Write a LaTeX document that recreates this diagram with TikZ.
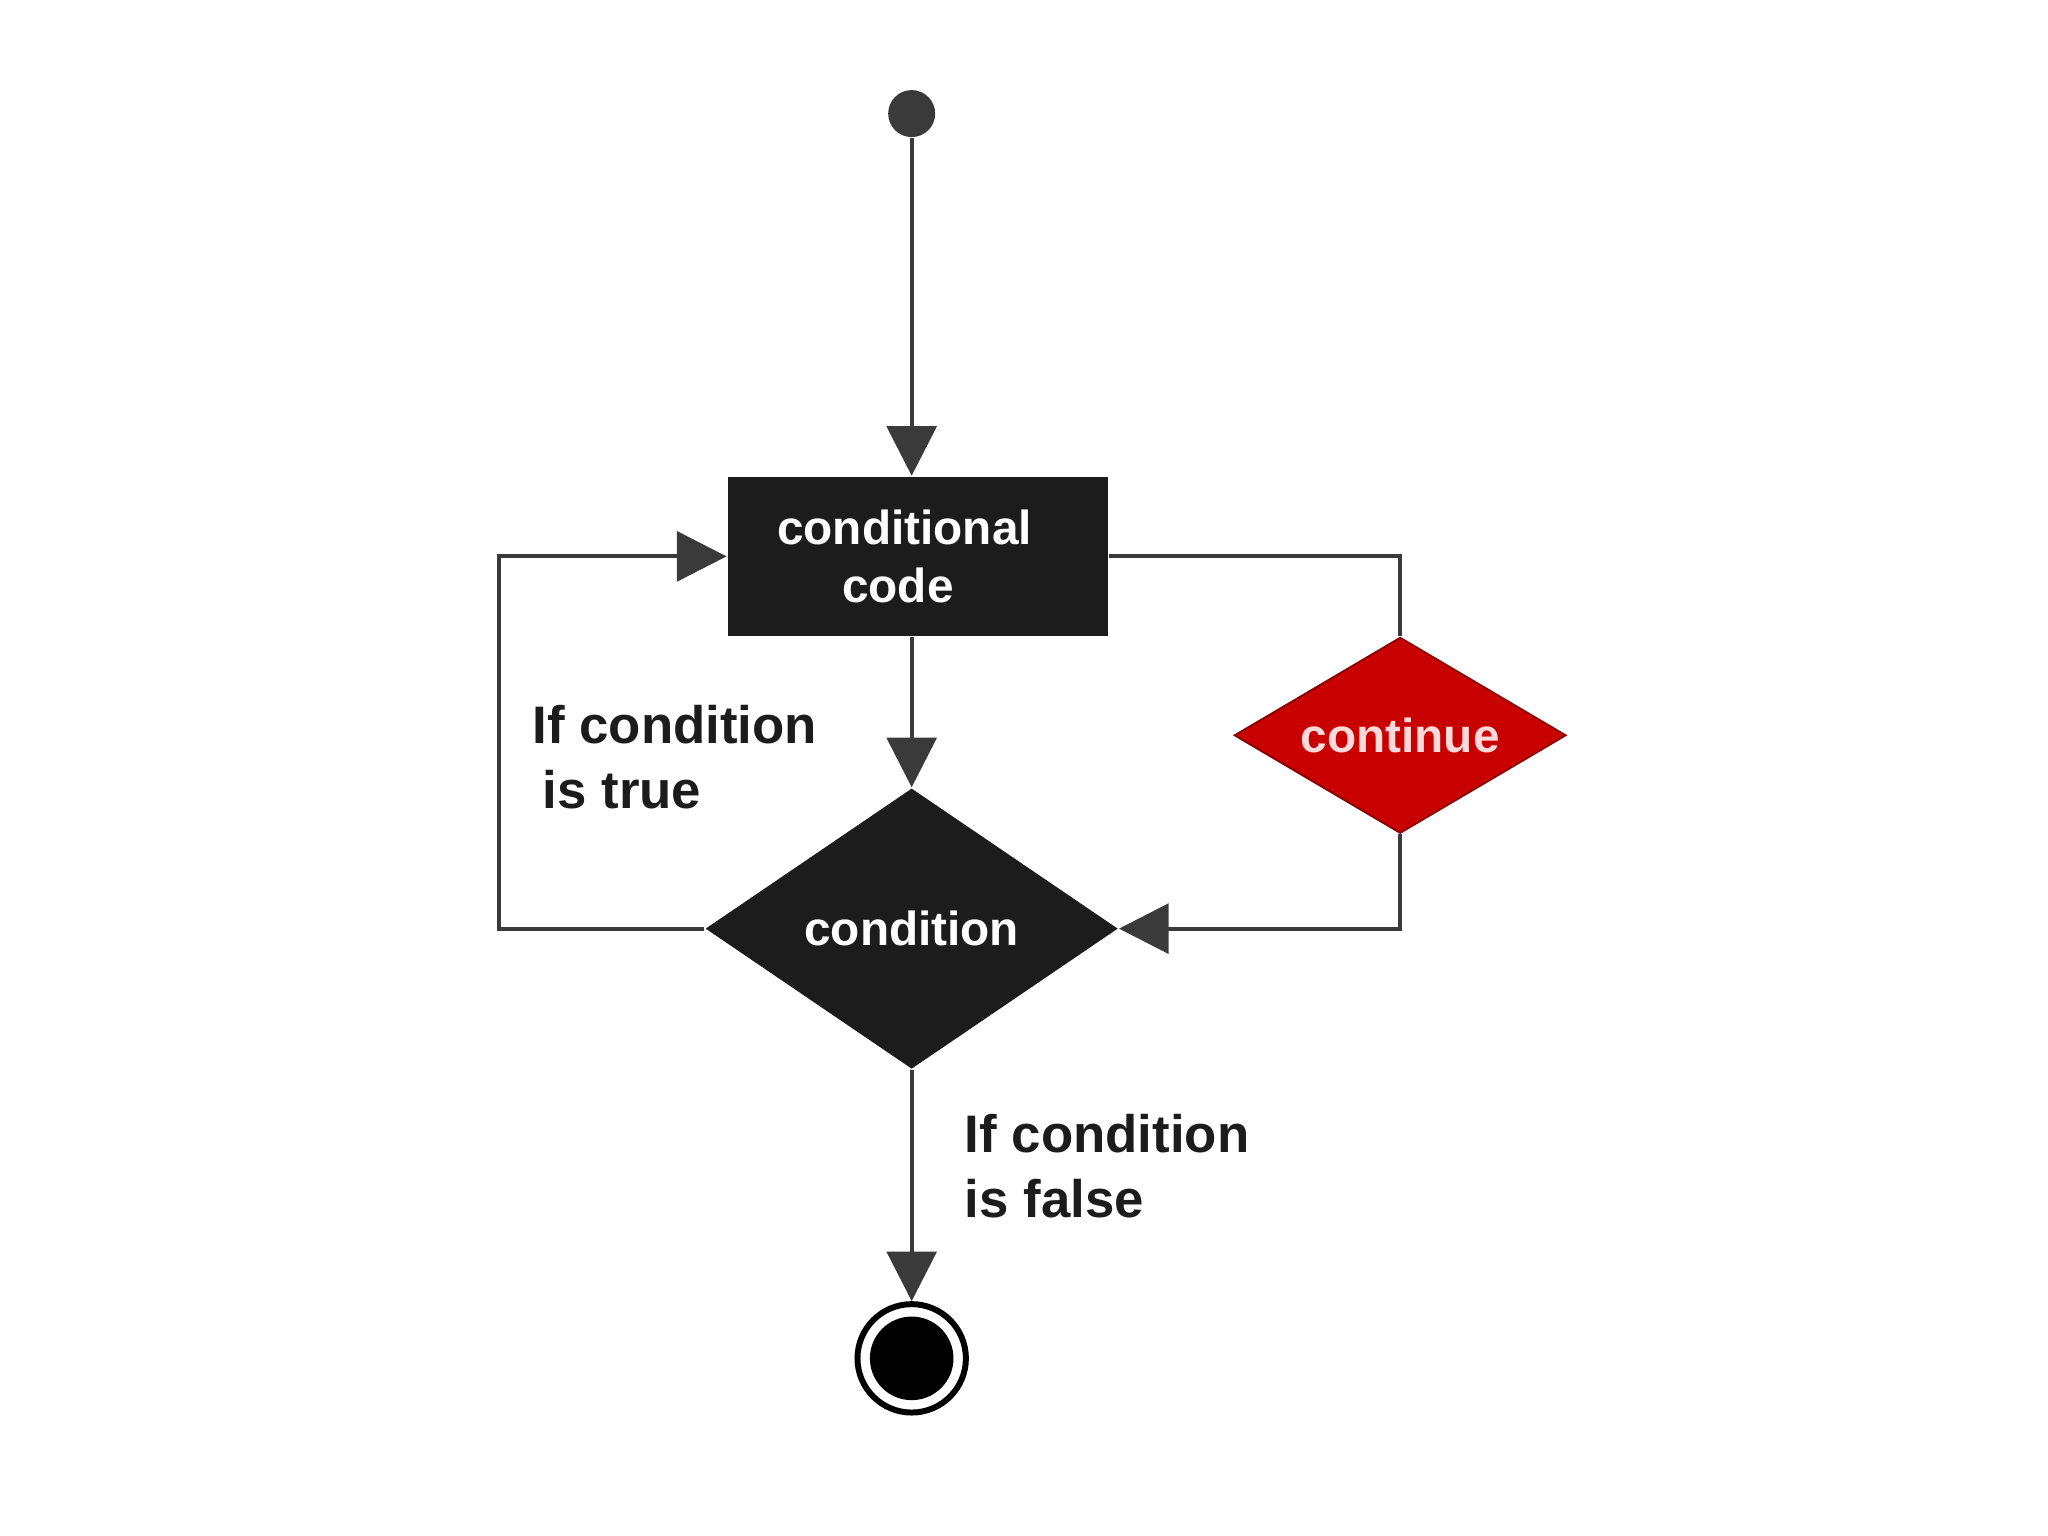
\documentclass[tikz,border=0pt]{standalone}
\usepackage{fontspec}
\setmainfont{Liberation Sans}
\usetikzlibrary{arrows.meta,shapes.geometric}
\definecolor{lineGray}{HTML}{3A3A3A}
\definecolor{boxBlack}{HTML}{1C1C1C}
\definecolor{contRed}{HTML}{C80000}

\begin{document}
\begin{tikzpicture}[>={Triangle[length=0.38cm,width=0.38cm]},
  flow/.style={draw=lineGray, line width=0.9pt},
  txt/.style={font=\bfseries\fontsize{10.4}{12.5}\selectfont, text=white, align=center, inner sep=0pt},
  lbl/.style={font=\bfseries\fontsize{11.5}{14.2}\selectfont, text=boxBlack, align=left, inner sep=0pt, anchor=west}]
\useasboundingbox (0,0) rectangle (15.68,11.76);
% nodes
\node[circle, fill=lineGray, minimum size=0.36cm, inner sep=0pt] (start) at (6.98,10.89) {};
\node[txt, fill=boxBlack, minimum width=2.91cm, minimum height=1.22cm] (code) at (7.025,7.50) {conditional\hspace*{0.2cm}\\code\hspace*{0.3cm}};
\node[txt, diamond, aspect=1.47, fill=boxBlack, minimum width=3.16cm, minimum height=2.15cm] (cond) at (6.98,4.65) {condition};
\node[txt, diamond, aspect=1.69, fill=contRed, draw=contRed!70!black, text=red!15!white, minimum width=2.54cm, minimum height=1.50cm] (cont) at (10.72,6.13) {continue};
\node[circle, draw=black, line width=1.3pt, fill=white, minimum size=0.83cm, inner sep=0pt] (stop) at (6.98,1.36) {};
\fill[black] (stop) circle (0.32);
% labels
\node[lbl] (trueLbl) at (4.07,5.96) {If condition\\\hspace{0.08cm}is true};
\node[lbl] (falseLbl) at (7.38,2.83) {If condition\\is false};
% connectors
\draw[flow, ->] (start) -- (start |- code.north);
\draw[flow, ->] (cond.north |- code.south) -- (cond.north);
\draw[flow] (code.east) -| (cont.north);
\draw[flow, ->] (cont.south) |- (cond.east);
\draw[flow, ->] (cond.west) -- ++(-1.57,0) |- (code.west);
\draw[flow, ->] (cond.south) -- (stop.north);
\end{tikzpicture}
\end{document}
